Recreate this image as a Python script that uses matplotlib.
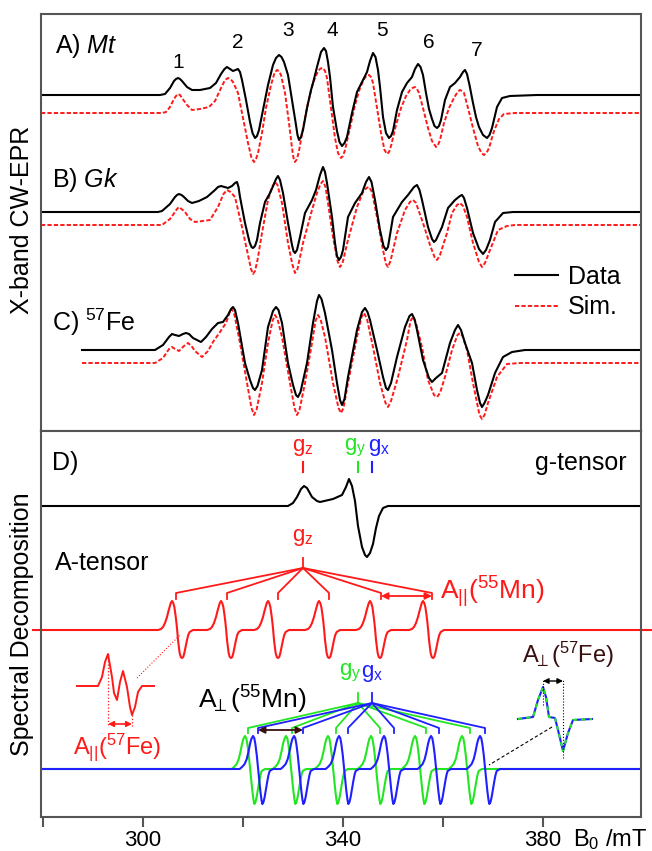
import numpy as np
import matplotlib
matplotlib.use("Agg")
import matplotlib.pyplot as plt

plt.rcParams["font.family"] = ["Liberation Sans", "DejaVu Sans"]
plt.rcParams["mathtext.fontset"] = "custom"
plt.rcParams["mathtext.rm"] = "Liberation Sans"
plt.rcParams["mathtext.it"] = "Liberation Sans:italic"

# ---- measured spectra: (field in mT, intensity relative to the trace baseline) ----
a_data = [(279.6, 0), (303.4, 0), (304.4, 1), (305.4, 7), (306.2, 14), (306.6, 16), (307.0, 17), (307.4, 16),
          (307.8, 14), (308.8, 8), (309.8, 5), (311.4, 5), (313.4, 7), (314.6, 12), (315.6, 21), (316.3, 26),
          (316.8, 28), (317.4, 26), (318.0, 24), (318.5, 25), (319.0, 26), (319.4, 23), (319.8, 15), (320.6, -5),
          (321.4, -27), (321.9, -38), (322.4, -43), (322.8, -41), (323.2, -35), (324.0, -15), (325.0, 10),
          (326.0, 30), (326.6, 37), (327.2, 40), (327.7, 38), (328.2, 33), (329.0, 20), (329.8, -5), (330.6, -30),
          (330.9, -40), (331.2, -45), (331.6, -42), (332.0, -35), (332.8, -13), (333.6, 5), (334.0, 12),
          (334.8, 28), (335.6, 43), (336.2, 47), (336.6, 44), (337.0, 33), (337.4, 18), (338.0, -12), (338.8, -36),
          (339.3, -47), (339.8, -51), (340.3, -48), (340.8, -42), (341.8, -18), (342.8, 3), (343.8, 13),
          (344.8, 23), (345.4, 34), (346.0, 42), (346.5, 38), (347.0, 25), (347.4, 8), (348.0, -22), (348.6, -38),
          (349.2, -43), (349.6, -41), (350.0, -36), (350.8, -15), (351.8, 3), (352.8, 12), (353.8, 18),
          (354.4, 26), (355.0, 31), (355.5, 28), (356.0, 20), (356.6, 2), (357.2, -14), (357.8, -24), (358.3, -31),
          (358.8, -33), (359.2, -31), (359.6, -25), (360.4, -5), (361.4, 8), (362.4, 12), (363.4, 18), (364.0, 23),
          (364.4, 25), (364.8, 21), (365.3, 10), (366.0, -8), (366.6, -22), (367.2, -32), (368.0, -40),
          (368.8, -43), (369.3, -40), (369.8, -33), (370.8, -12), (371.8, -3), (373.4, -1), (378.8, 0), (399.6, 0)]

a_sim = [(279.6, 0), (303.8, 0), (304.6, 1), (305.4, 6), (306.2, 14), (306.6, 17), (307.0, 19), (307.4, 18),
         (307.8, 15), (308.8, 8), (309.8, 3), (311.4, 4), (313.2, 6), (314.4, 12), (315.6, 25), (316.4, 33),
         (317.0, 35), (317.5, 34), (318.0, 31), (319.0, 20), (320.0, -5), (321.0, -30), (321.7, -45), (322.2, -49),
         (322.6, -46), (323.0, -40), (323.8, -20), (324.6, 5), (325.6, 28), (326.3, 40), (326.8, 43), (327.2, 42),
         (327.6, 38), (328.4, 20), (329.2, -10), (329.8, -35), (330.1, -45), (330.4, -49), (330.8, -46),
         (331.2, -38), (332.0, -15), (333.0, 10), (334.0, 30), (335.0, 42), (335.5, 44.5), (336.0, 45),
         (336.4, 42), (336.8, 35), (337.6, 5), (338.4, -25), (339.0, -40), (339.6, -45), (340.0, -43),
         (340.4, -37), (341.4, -15), (342.4, 8), (343.4, 25), (344.2, 34), (344.7, 37), (345.2, 38), (345.6, 36),
         (346.0, 30), (346.8, 5), (347.6, -20), (348.3, -37), (348.8, -41), (349.2, -39), (349.6, -33),
         (350.6, -12), (351.6, 5), (352.6, 17), (353.4, 23), (353.9, 25), (354.4, 26), (354.8, 24), (355.2, 20),
         (356.0, 5), (357.0, -15), (357.8, -28), (358.6, -34), (359.0, -32), (359.4, -27), (360.2, -10),
         (361.2, 5), (362.2, 15), (362.9, 21), (363.4, 23), (363.8, 22), (364.2, 20), (365.0, 5), (366.0, -15),
         (367.0, -33), (367.7, -40), (368.2, -42), (368.7, -40), (369.2, -35), (370.2, -18), (371.2, -6),
         (372.2, -1), (374.4, 0), (399.6, 0)]

b_data = [(279.6, 0), (303.0, 0), (303.8, 1), (305.4, 8), (306.4, 15), (306.8, 17), (307.2, 18), (307.7, 17),
          (308.2, 15), (309.0, 11), (309.8, 9), (311.2, 11), (312.8, 15), (314.4, 22), (315.0, 25), (315.6, 26),
          (316.3, 25), (317.0, 24), (317.8, 26), (318.4, 29), (318.8, 30), (319.1, 25), (319.4, 15), (320.4, -11),
          (321.3, -30), (321.7, -35), (322.0, -36), (322.4, -34), (322.8, -28), (323.4, -11), (324.4, 10),
          (325.4, 19), (326.2, 28), (326.6, 33), (327.0, 36), (327.4, 32), (328.0, 19), (329.0, -11),
          (329.8, -33), (330.1, -39), (330.4, -41), (330.8, -38), (331.4, -25), (332.4, -1), (333.8, 12),
          (334.6, 22), (335.4, 37), (336.0, 45), (336.4, 40), (336.8, 29), (337.8, -5), (338.4, -31), (338.8, -44),
          (339.2, -48), (339.6, -45), (340.0, -38), (341.0, -5), (342.4, 9), (343.8, 19), (344.6, 30), (345.2, 35),
          (345.7, 30), (346.4, 12), (347.4, -18), (348.1, -34), (348.6, -38), (349.0, -35), (350.0, -5),
          (351.8, 10), (353.0, 17), (354.2, 25), (354.8, 27), (355.3, 22), (355.8, 12), (357.0, -15),
          (357.8, -27), (358.2, -30), (358.6, -28), (359.8, -15), (361.0, 4), (362.4, 12), (363.4, 16),
          (363.8, 17), (364.2, 14), (364.8, 4), (366.0, -21), (367.2, -37), (368.0, -42), (368.6, -38),
          (369.4, -28), (370.4, -10), (372.0, -1), (374.0, 0), (399.6, 0)]

b_sim = [(279.6, 0), (303.8, 0), (305.4, 6), (306.4, 13), (306.8, 16), (307.2, 18), (307.7, 16), (308.4, 13),
         (309.4, 6), (310.4, 3), (313.4, 5), (315.0, 18), (316.1, 31), (316.8, 35), (317.5, 33), (318.4, 28),
         (319.8, -2), (321.0, -30), (321.6, -44), (322.0, -49), (322.4, -46), (322.9, -35), (323.8, -8),
         (325.0, 25), (325.8, 38), (326.4, 43), (326.9, 40), (327.8, 22), (329.0, -18), (329.9, -40), (330.4, -48),
         (330.9, -44), (332.0, -18), (333.8, 15), (334.8, 32), (335.5, 41), (336.0, 44), (336.5, 38), (337.0, 22),
         (338.0, -12), (338.9, -36), (339.4, -42), (339.9, -38), (341.0, -15), (342.8, 18), (344.0, 33),
         (344.7, 37), (345.2, 38), (345.8, 33), (346.8, 8), (348.0, -25), (348.6, -39), (349.0, -42),
         (349.5, -36), (350.8, -8), (352.4, 15), (353.4, 23), (354.0, 25), (354.6, 22), (356.0, 2), (357.4, -20),
         (358.3, -32), (358.8, -35), (359.4, -30), (360.8, -8), (361.8, 12), (362.8, 20), (363.4, 22),
         (364.0, 19), (364.8, 8), (366.0, -18), (367.2, -37), (367.8, -42), (368.4, -38), (369.4, -25),
         (371.0, -5), (372.8, -1), (374.4, 0), (399.6, 0)]

c_data = [(287.8, 0), (302.4, 0), (304.0, 5), (305.2, 13), (305.8, 16), (306.4, 15), (307.2, 14), (308.0, 16),
          (308.6, 17), (309.2, 16), (310.0, 12), (311.6, 8), (312.6, 13), (313.8, 21), (315.0, 27), (316.0, 28),
          (317.0, 35), (317.6, 41), (318.0, 43), (318.4, 40), (319.0, 27), (320.4, -13), (321.4, -30),
          (322.0, -38), (322.4, -40), (322.9, -36), (323.8, -20), (325.0, 23), (326.0, 39), (326.6, 43),
          (327.1, 40), (327.8, 27), (329.0, -13), (330.0, -35), (330.6, -45), (331.0, -47), (331.5, -42),
          (332.8, -13), (334.0, 27), (334.8, 49), (335.2, 55), (335.7, 51), (336.4, 37), (337.8, 0), (338.8, -33),
          (339.4, -50), (339.8, -55), (340.3, -49), (341.0, -27), (342.8, 20), (343.8, 38), (344.4, 42),
          (344.9, 38), (345.4, 30), (346.8, 0), (348.0, -27), (348.6, -38), (349.0, -40), (349.6, -33),
          (350.8, -7), (352.4, 23), (353.3, 34), (353.8, 36), (354.3, 31), (354.8, 20), (356.0, -10),
          (357.2, -28), (357.8, -32), (358.6, -28), (359.8, -23), (361.4, 7), (362.4, 20), (363.0, 25),
          (363.6, 20), (364.4, 7), (365.8, -13), (366.8, -40), (367.4, -53), (367.8, -57), (368.3, -53),
          (369.0, -45), (370.4, -23), (372.0, -7), (373.8, -2), (376.4, 0), (399.6, 0)]

c_sim = [(287.8, 0), (302.4, 0), (304.0, 5), (305.2, 14), (305.8, 16), (306.4, 14), (307.2, 12), (308.2, 17),
         (309.0, 20), (309.7, 17), (310.4, 12), (311.8, 6), (313.0, 12), (314.0, 21), (315.4, 31), (316.6, 40),
         (317.3, 50), (317.8, 54), (318.3, 48), (319.4, 20), (320.8, -20), (321.7, -45), (322.2, -52),
         (322.7, -47), (323.8, -20), (325.0, 20), (325.9, 42), (326.4, 48), (326.9, 44), (327.8, 26),
         (329.4, -20), (330.3, -45), (330.8, -52), (331.3, -47), (332.4, -20), (333.8, 20), (334.5, 42),
         (335.0, 48), (335.5, 44), (336.4, 26), (338.0, -20), (339.1, -45), (339.6, -50), (340.1, -45),
         (341.0, -20), (342.8, 26), (343.7, 46), (344.2, 50), (344.8, 44), (346.0, 16), (347.4, -20),
         (348.5, -40), (349.0, -44), (349.6, -38), (351.0, -14), (352.8, 23), (353.5, 42), (354.0, 46),
         (354.6, 40), (355.8, 16), (357.0, -17), (358.2, -32), (358.8, -34), (359.4, -30), (360.4, -14),
         (361.8, 13), (362.9, 28), (363.4, 30), (363.9, 27), (364.8, 13), (366.0, -20), (367.3, -52),
         (367.8, -56), (368.3, -52), (369.0, -40), (370.8, -14), (372.8, -1), (375.4, 0), (399.6, 0)]

# ---- spectral decomposition ----
g_tensor = [(279.6, 0), (329.0, 0), (330.0, 3), (330.8, 9), (331.6, 17), (332.2, 20), (332.8, 18), (333.8, 9),
            (334.8, 5), (335.4, 4), (338.0, 7), (339.8, 11), (340.6, 19), (341.2, 27), (341.8, 20), (342.4, 5),
            (343.0, -20), (343.8, -41), (344.4, -49), (344.8, -51), (345.4, -47), (346.0, -38), (346.6, -22),
            (347.2, -10), (348.0, -2), (349.0, 0), (399.6, 0)]

# one hyperfine line (offset from its peak in mT, intensity)
red_line = [(-2.8, 0), (-2.2, 1), (-1.8, 3), (-1.4, 7), (-1.0, 13), (-0.7, 19), (-0.47, 23), (-0.25, 27),
            (0.0, 29), (0.25, 27), (0.47, 23), (0.7, 15), (0.87, 8), (1.05, -1), (1.2, -10), (1.38, -17),
            (1.53, -23), (1.75, -27), (2.0, -28), (2.25, -27), (2.47, -23), (2.75, -16), (3.0, -10), (3.25, -5),
            (3.53, -2), (4.2, 0)]
perp_line = [(-2.67, 0), (-2.2, 2), (-1.67, 5), (-1.25, 10), (-0.87, 18), (-0.6, 25), (-0.33, 30), (0.0, 33),
             (0.25, 31), (0.47, 25), (0.75, 14), (1.0, 2), (1.25, -11), (1.47, -22), (1.7, -31), (1.87, -35),
             (2.1, -33), (2.33, -28), (2.6, -20), (2.87, -12), (3.1, -6), (3.33, -2), (4.0, 0)]
red_peaks = [305.8, 315.6, 325.0, 335.2, 345.4, 356.0]
green_peaks = [320.4, 328.6, 337.0, 345.6, 354.4, 363.8]
blue_peaks = [322.0, 330.2, 339.2, 348.2, 357.6, 367.4]

red_marks = [306.6, 316.8, 327.0, 337.2, 347.6, 357.8]
green_marks = [321.0, 329.8, 338.6, 347.4, 356.6, 365.4]
blue_marks = [323.0, 332.0, 341.0, 350.2, 359.2, 368.4]
g_z, g_y, g_x = 332.0, 343.0, 345.8

# zoomed 57Fe insets
fe_par = [(286.8, 0), (291.0, 0), (291.8, 9), (292.4, 24), (293.0, 32), (293.8, 9), (294.2, -7), (294.8, -14),
          (295.4, 4), (296.0, 15), (296.8, -1), (297.4, -21), (297.8, -29), (298.4, -21), (299.0, -6),
          (299.8, 0), (302.2, 0)]
fe_perp = [(375.0, 0), (378.0, 2), (379.0, 19), (380.0, 32), (380.6, 22), (381.2, 2), (382.4, 1), (383.0, -11),
           (384.0, -32), (385.0, -14), (386.0, -1), (389.8, 0)]

line_numbers = ["1", "2", "3", "4", "5", "6", "7"]
line_number_B = [307.0, 319.0, 329.0, 337.8, 347.8, 357.2, 366.8]

RED = "#ff1a1a"
GREEN = "#22e622"
BLUE = "#1f1fff"
BROWN = "#3a0f0f"
FRAME = "#555555"
SIM_DASH = (0, (2.2, 1.1))


def xy(pairs):
    arr = np.array(pairs, dtype=float)
    return arr[:, 0], arr[:, 1]


def build_lines(peaks, shape, start, end):
    dB, inten = xy(shape)
    xs, ys = [start], [0.0]
    for p in peaks:
        xs += list(p + dB)
        ys += list(inten)
    xs.append(end)
    ys.append(0.0)
    return np.array(xs), np.array(ys)


fig = plt.figure(figsize=(6.52, 8.51), dpi=100)
ax1 = fig.add_axes([41 / 652, 420 / 851, 600 / 652, 417 / 851])
ax2 = fig.add_axes([41 / 652, 34 / 851, 600 / 652, 386 / 851])

for ax in (ax1, ax2):
    ax.set_xlim(279.6, 399.6)
    ax.set_yticks([])
    for s in ax.spines.values():
        s.set_color(FRAME)
        s.set_linewidth(1.5)
ax1.set_ylim(0, 417)
ax2.set_ylim(0, 386)
ax1.set_xticks([])

# ---- panels A-C ----
traces = [(a_data, a_sim, 336, 318), (b_data, b_sim, 219, 206), (c_data, c_sim, 81, 68)]
handles = []
for data, sim, off_d, off_s in traces:
    sB, sI = xy(sim)
    dB, dI = xy(data)
    hs, = ax1.plot(sB, sI + off_s, color=RED, lw=1.4, ls=SIM_DASH)
    hd, = ax1.plot(dB, dI + off_d, color="black", lw=1.5, solid_joinstyle="round")
    if not handles:
        handles = [hd, hs]

ax1.text(282.4, 385, r"A) $\mathit{Mt}$", fontsize=18, ha="left", va="center")
ax1.text(281.8, 251, r"B) $\mathit{Gk}$", fontsize=18, ha="left", va="center")
ax1.text(281.8, 109, r"C) $^{57}$Fe", fontsize=18, ha="left", va="center")
line_number_y = [369, 388, 401, 400, 400, 388, 381]
for lab, xb, yb in zip(line_numbers, line_number_B, line_number_y):
    ax1.text(xb, yb, lab, fontsize=15, ha="center", va="center")

ax1.legend(handles, ["Data", "Sim."], loc="center left", bbox_to_anchor=(0.79, 0.333),
           frameon=False, fontsize=18, handlelength=1.7, handletextpad=0.4,
           labelspacing=0.25, borderpad=0, borderaxespad=0)

# ---- panel D ----
off_g, off_red, off_perp = 311, 187, 48
gB, gI = xy(g_tensor)
ax2.plot(gB, gI + off_g, color="black", lw=1.5)

rx, ry = build_lines(red_peaks, red_line, 278.0, 401.8)
ax2.plot(rx, ry + off_red, color=RED, lw=1.5, clip_on=False)

gx_, gy_ = build_lines(green_peaks, perp_line, 279.8, 399.4)
bx_, by_ = build_lines(blue_peaks, perp_line, 279.8, 399.4)
ax2.plot(gx_, gy_ + off_perp, color=GREEN, lw=1.5)
ax2.plot(bx_, by_ + off_perp, color=BLUE, lw=1.5)

ax2.text(281.8, 354, "D)", fontsize=18, ha="left", va="center")
ax2.text(396.8, 354, "g-tensor", fontsize=18, ha="right", va="center")
ax2.text(282.4, 254, "A-tensor", fontsize=18, ha="left", va="center")

# g-tensor markers
ax2.text(g_z, 369, r"g$_\mathregular{z}$", color=RED, fontsize=16, ha="center", va="center")
ax2.text(g_y - 0.6, 369, r"g$_\mathregular{y}$", color=GREEN, fontsize=16, ha="center", va="center")
ax2.text(g_x + 1.4, 369, r"g$_\mathregular{x}$", color=BLUE, fontsize=16, ha="center", va="center")
for xv, c in [(g_z, RED), (g_y, GREEN), (g_x, BLUE)]:
    ax2.plot([xv, xv], [345, 355], color=c, lw=1.5)

# A-tensor fan
ax2.text(g_z, 280, r"g$_\mathregular{z}$", color=RED, fontsize=16, ha="center", va="center")
ax2.plot([g_z, g_z], [249, 259], color=RED, lw=1.3)
for xm in red_marks:
    ax2.plot([g_z, xm, xm], [249, 224, 218], color=RED, lw=1.3)
ax2.annotate("", xy=(357.8, 221), xytext=(347.6, 221),
             arrowprops=dict(arrowstyle="<|-|>", color=RED, lw=1.3, shrinkA=0, shrinkB=0, mutation_scale=10))
ax2.text(359.4, 225, r"A$_{||}$($^{55}$Mn)", color=RED, fontsize=19, ha="left", va="center")

# 57Fe parallel inset
off_fe1 = 131
fB, fI = xy(fe_par)
ax2.plot(fB, fI + off_fe1, color=RED, lw=1.4)
ax2.plot([293.0, 293.0], [off_fe1 + 32, 91], color=RED, lw=0.9, ls=":")
ax2.plot([297.8, 297.8], [off_fe1 - 29, 91], color=RED, lw=0.9, ls=":")
ax2.annotate("", xy=(297.8, 93), xytext=(293.0, 93),
             arrowprops=dict(arrowstyle="<|-|>", color=RED, lw=1.2, shrinkA=0, shrinkB=0, mutation_scale=8))
ax2.text(294.8, 70, r"A$_{||}$($^{57}$Fe)", color=RED, fontsize=17, ha="center", va="center")
ax2.plot([298.8, 307.4], [139, 182], color=RED, lw=0.8, ls=":")

# A-perp fans
ax2.text(311.0, 117, r"A$_{\!\!\perp}$($^{55}$Mn)", color="black", fontsize=19, ha="left", va="center")
ax2.text(341.4, 144, r"g$_\mathregular{y}$", color=GREEN, fontsize=16, ha="center", va="center")
ax2.text(345.8, 144, r"g$_\mathregular{x}$", color=BLUE, fontsize=16, ha="center", va="center")
for apex, marks, c in [(g_y, green_marks, GREEN), (g_x, blue_marks, BLUE)]:
    ax2.plot([apex, apex], [114, 124], color=c, lw=1.3)
    for xm in marks:
        ax2.plot([apex, xm, xm], [114, 89, 84], color=c, lw=1.3)
ax2.annotate("", xy=(332.0, 87), xytext=(323.0, 87),
             arrowprops=dict(arrowstyle="<|-|>", color=BROWN, lw=1.3, shrinkA=0, shrinkB=0, mutation_scale=10))

# 57Fe perpendicular inset
off_fe2 = 98
pB, pI = xy(fe_perp)
ax2.plot(pB, pI + off_fe2, color=BLUE, lw=1.5)
ax2.plot(pB, pI + off_fe2, color=GREEN, lw=1.5, ls=(0, (2, 2)))
ax2.plot([380.0, 380.0], [112, 137], color="black", lw=0.8, ls=":")
ax2.plot([384.0, 384.0], [59, 137], color="black", lw=0.8, ls=":")
ax2.annotate("", xy=(384.0, 136), xytext=(380.0, 136),
             arrowprops=dict(arrowstyle="<|-|>", color="black", lw=1.0, shrinkA=0, shrinkB=0, mutation_scale=8))
ax2.text(375.8, 162, r"A$_{\!\!\perp}$($^{57}$Fe)", color=BROWN, fontsize=17, ha="left", va="center")
ax2.plot([381.8, 369.2], [90, 52], color="black", lw=0.8, ls=(0, (3, 2)))

ax2.set_xticks([280, 300, 320, 340, 360, 380])
ax2.set_xticklabels(["", "300", "", "340", "", "380"])
ax2.tick_params(axis="x", direction="out", length=7, width=1.5, color=FRAME, labelsize=16, pad=2)

fig.text(22 / 652, 1 - 220 / 851, "X-band CW-EPR", rotation=90, fontsize=18, ha="center", va="center")
fig.text(22 / 652, 1 - 624 / 851, "Spectral Decomposition", rotation=90, fontsize=18, ha="center", va="center")
fig.text(648 / 652, 1 - 840 / 851, r"B$_0$ /mT", fontsize=17, ha="right", va="center")

fig.savefig("out.png", dpi=100)
